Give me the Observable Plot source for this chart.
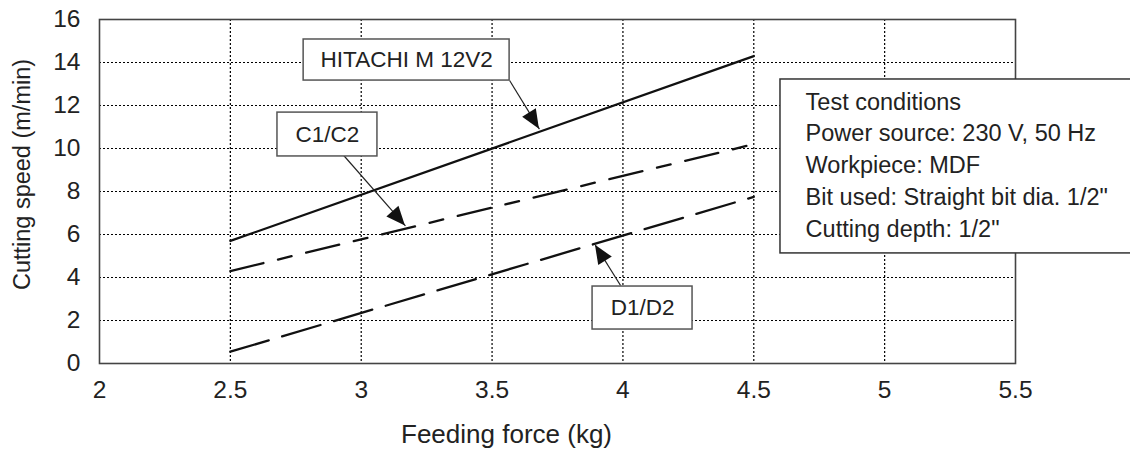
<!DOCTYPE html>
<html>
<head>
<meta charset="utf-8">
<script src="https://cdn.jsdelivr.net/npm/d3@7"></script>
<script src="https://cdn.jsdelivr.net/npm/@observablehq/plot@0.6"></script>
<style>
  html, body { margin: 0; padding: 0; background: #fff; }
  #chart svg { display: block; }
  #chart [aria-label^="x-axis"] text, #chart [aria-label^="y-axis"] text { font-size: 24.5px; fill: #222; }
</style>
</head>
<body>
<div id="chart"></div>
<script>
// ---- data ----
const xTicks = [2, 2.5, 3, 3.5, 4, 4.5, 5, 5.5];
const yTicks = [0, 2, 4, 6, 8, 10, 12, 14, 16];
const xGrid = [2.5, 3, 3.5, 4, 4.5, 5];
const yGrid = [2, 4, 6, 8, 10, 12, 14];
const seriesNames = ["HITACHI M 12V2", "C1/C2", "D1/D2"];
const feedingForce = [2.5, 4.5];
const hitachiSpeed = [5.7, 14.3];
const c1c2Speed = [4.3, 10.2];
const d1d2Speed = [0.55, 7.75];
const testConditions = [
  "Test conditions",
  "Power source: 230 V, 50 Hz",
  "Workpiece: MDF",
  "Bit used: Straight bit dia. 1/2\"",
  "Cutting depth: 1/2\""
];
const xLabel = "Feeding force (kg)";
const yLabel = "Cutting speed (m/min)";

// ---- annotation layout (data coordinates) ----
const callouts = [
  {label: seriesNames[0], x1: 2.78, x2: 3.567, y1: 13.16, y2: 15.07, ax: 3.567, ay: 13.16, tx: 3.681, ty: 10.9},
  {label: seriesNames[1], x1: 2.68, x2: 3.062, y1: 9.63, y2: 11.67, ax: 2.93, ay: 9.72, tx: 3.169, ty: 6.4},
  {label: seriesNames[2], x1: 3.884, x2: 4.266, y1: 1.58, y2: 3.58, ax: 3.991, ay: 3.63, tx: 3.895, ty: 5.5}
];
const testBox = {x1: 4.602, x2: 6.3, y1: 5.12, y2: 13.21, tx: 4.698, ty: 12.85};

const seriesStyles = [
  {name: seriesNames[0], speed: hitachiSpeed, dash: null},
  {name: seriesNames[1], speed: c1c2Speed, dash: "34,15,14,15"},
  {name: seriesNames[2], speed: d1d2Speed, dash: "40,14"}
];

const lineMarks = seriesStyles.map(s =>
  Plot.line(feedingForce.map((f, i) => ({force: f, speed: s.speed[i]})), {
    x: "force", y: "speed", stroke: "#111", strokeWidth: 2.3,
    strokeDasharray: s.dash == null ? undefined : s.dash
  })
);

function arrowHeads(index, scales) {
  const g = d3.create("svg:g");
  for (const c of callouts) {
    const x1 = scales.x(c.ax), y1 = scales.y(c.ay), x2 = scales.x(c.tx), y2 = scales.y(c.ty);
    const a = Math.atan2(y2 - y1, x2 - x1);
    const L = 19, W = 8;
    const bx = x2 - L * Math.cos(a), by = y2 - L * Math.sin(a);
    const pts = [[x2, y2], [bx - W * Math.sin(a), by + W * Math.cos(a)], [bx + W * Math.sin(a), by - W * Math.cos(a)]];
    g.append("polygon").attr("points", pts.map(p => p.join(",")).join(" ")).attr("fill", "#111");
  }
  return g.node();
}

const chart = Plot.plot({
  width: 1130,
  height: 452,
  marginLeft: 99,
  marginRight: 115,
  marginTop: 19,
  marginBottom: 89,
  style: {fontFamily: "'Liberation Sans', Arial, Helvetica, sans-serif", fontSize: "24px", color: "#222", background: "#fff"},
  x: {domain: [2, 5.5], ticks: xTicks, tickSize: 0, tickPadding: 17, label: null, tickFormat: d => String(d)},
  y: {domain: [0, 16], ticks: yTicks, tickSize: 0, tickPadding: 19, label: null, tickFormat: d => String(d)},
  marks: [
    Plot.ruleX(xGrid, {stroke: "#000", strokeWidth: 1.2, strokeDasharray: "2,2"}),
    Plot.ruleY(yGrid, {stroke: "#000", strokeWidth: 1.2, strokeDasharray: "2,2"}),
    Plot.frame({stroke: "#444", strokeWidth: 1.6}),
    ...lineMarks,
    Plot.link(callouts, {x1: "ax", y1: "ay", x2: "tx", y2: "ty", stroke: "#222", strokeWidth: 1.2}),
    arrowHeads,
    Plot.rect(callouts, {x1: "x1", x2: "x2", y1: "y1", y2: "y2", fill: "#fff", stroke: "#555", strokeWidth: 1.5}),
    Plot.text(callouts, {x: d => (d.x1 + d.x2) / 2, y: d => (d.y1 + d.y2) / 2, text: "label", fontSize: 22.5, fill: "#222"}),
    Plot.rect([testBox], {x1: "x1", x2: "x2", y1: "y1", y2: "y2", fill: "#fff", stroke: "#333", strokeWidth: 1.5}),
    Plot.text([testConditions.join("\n")], {x: testBox.tx, y: testBox.ty, textAnchor: "start", lineAnchor: "top", lineHeight: 1.35, fontSize: 23.5, fill: "#222"}),
    Plot.text([xLabel], {frameAnchor: "bottom", textAnchor: "middle", lineAnchor: "middle", dx: -51, dy: 71, fontSize: 26, fill: "#222"}),
    Plot.text([yLabel], {frameAnchor: "left", textAnchor: "middle", lineAnchor: "middle", rotate: -90, dx: -77, dy: -17, fontSize: 23.5, fill: "#222"})
  ]
});
document.getElementById("chart").appendChild(chart);
</script>
</body>
</html>
